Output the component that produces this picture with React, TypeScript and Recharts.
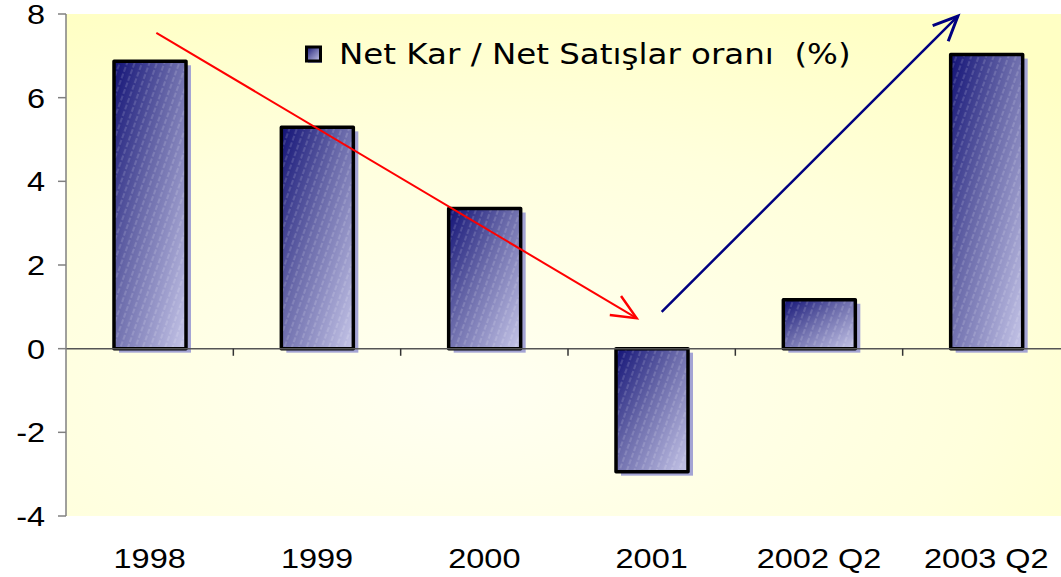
import React from "react";
import { BarChart, Bar, XAxis, YAxis, CartesianGrid, ReferenceLine } from "recharts";

const categories = ["1998", "1999", "2000", "2001", "2002 Q2", "2003 Q2"];
const ratios = [6.87, 5.29, 3.35, -2.94, 1.17, 7.03];
const yTicks = [-4, -2, 0, 2, 4, 6, 8];
const boundaries = [0.5, 1.5, 2.5, 3.5, 4.5];
const redArrow = [{ x: 0.04, y: 7.55 }, { x: 2.91, y: 0.73 }];
const blueArrow = [{ x: 3.06, y: 0.88 }, { x: 4.83, y: 7.95 }];
const legendLabel = "Net Kar / Net Satışlar oranı  (%)";

const data = categories.map((name, i) => ({ name, value: ratios[i], idx: i }));

const STRETCH = 1.16;

const BarShape = (p: any) => {
  const { x, y, width, height } = p;
  const top = Math.min(y, y + height);
  const h = Math.abs(height);
  return (
    <g>
      <rect x={x + 5} y={top + 4} width={width} height={h} fill="#a4a4d4" />
      <rect x={x} y={top} width={width} height={h} fill="url(#barGrad)" />
      <rect x={x} y={top} width={width} height={h} fill="url(#stripes)" />
      <rect x={x} y={top} width={width} height={h} fill="none" stroke="#000" strokeWidth={3.5} strokeLinejoin="round" />
    </g>
  );
};

const Arrow = (p: any) => {
  const { x1, y1, x2, y2, stroke, strokeWidth } = p;
  const ang = Math.atan2(y2 - y1, x2 - x1);
  const len = 27;
  const spread = 0.42;
  const a1x = x2 - len * Math.cos(ang - spread);
  const a1y = y2 - len * Math.sin(ang - spread);
  const a2x = x2 - len * Math.cos(ang + spread);
  const a2y = y2 - len * Math.sin(ang + spread);
  return (
    <g>
      <line x1={x1} y1={y1} x2={x2} y2={y2} stroke={stroke} strokeWidth={strokeWidth} />
      <polyline
        points={`${a1x},${a1y} ${x2},${y2} ${a2x},${a2y}`}
        fill="none"
        stroke={stroke}
        strokeWidth={strokeWidth + 0.5}
        strokeLinejoin="miter"
      />
    </g>
  );
};

const YTick = ({ x, y, payload }: any) => (
  <g transform={`translate(${x},${y})`}>
    <text transform={`scale(${STRETCH},1)`} textAnchor="end" dy="0.36em" fontSize={28} fontFamily="Liberation Sans, Arial" fill="#000">
      {payload.value}
    </text>
  </g>
);

const XTick = ({ x, y, payload }: any) => (
  <g transform={`translate(${x},${y})`}>
    <text transform={`scale(${STRETCH},1)`} textAnchor="middle" dy="0.71em" fontSize={28} fontFamily="Liberation Sans, Arial" fill="#000">
      {payload.value}
    </text>
  </g>
);

export default function App() {
  return (
    <div style={{ position: "absolute", left: 0, top: 0, width: 1061, height: 577, overflow: "hidden", background: "#fff" }}>
      <BarChart width={1070} height={577} data={data} margin={{ top: 14, right: 0, bottom: 0, left: 0 }} barSize={72}>
        <defs>
          <radialGradient id="bgGrad" cx="0.4" cy="0.75" r="0.85">
            <stop offset="0" stopColor="#fffff2" />
            <stop offset="0.6" stopColor="#ffffdc" />
            <stop offset="1" stopColor="#ffffc4" />
          </radialGradient>
          <linearGradient id="barGrad" x1="0" y1="0" x2="1" y2="1">
            <stop offset="0" stopColor="#121276" />
            <stop offset="0.45" stopColor="#6a6aaa" />
            <stop offset="1" stopColor="#c6c6e8" />
          </linearGradient>
          <pattern id="stripes" patternUnits="userSpaceOnUse" width="7" height="7" patternTransform="rotate(20)">
            <line x1="1" y1="0" x2="1" y2="7" stroke="#ffffff" strokeOpacity={0.28} strokeWidth={1} strokeDasharray="4 2" />
          </pattern>
        </defs>
        <CartesianGrid horizontal={false} vertical={false} fill="url(#bgGrad)" />
        <XAxis
          dataKey="name"
          axisLine={false}
          tickLine={false}
          tickSize={6}
          tickMargin={26}
          height={61}
          interval={0}
          tick={<XTick />}
        />
        <XAxis xAxisId="num" type="number" dataKey="idx" domain={[-0.5, 5.5]} hide />
        <YAxis
          domain={[-4, 8]}
          ticks={yTicks}
          width={66}
          tickSize={8}
          tickMargin={13}
          axisLine={{ stroke: "#808080", strokeWidth: 1.5 }}
          tickLine={{ stroke: "#808080", strokeWidth: 1.5 }}
          tick={<YTick />}
          interval={0}
        />
        <Bar dataKey="value" shape={<BarShape />} isAnimationActive={false} />
        <ReferenceLine y={0} stroke="#555" strokeWidth={1.5} />
        {boundaries.map((b) => (
          <ReferenceLine
            key={b}
            xAxisId="num"
            segment={[{ x: b, y: 0 }, { x: b, y: -0.17 }]}
            stroke="#333"
            strokeWidth={1.5}
          />
        ))}
        <ReferenceLine xAxisId="num" segment={redArrow} stroke="#ff0000" strokeWidth={2} shape={Arrow} />
        <ReferenceLine xAxisId="num" segment={blueArrow} stroke="#000080" strokeWidth={2.5} shape={Arrow} />
      </BarChart>
      <div style={{ position: "absolute", left: 305, top: 38, display: "flex", alignItems: "center" }}>
        <svg width={20} height={20} style={{ marginRight: 14 }}>
          <rect x={3} y={4} width={14} height={14} fill="#a4a4d4" />
          <rect x={1.5} y={2} width={14} height={14} fill="url(#barGrad)" stroke="#000" strokeWidth={3} />
        </svg>
        <span
          style={{
            fontFamily: "DejaVu Sans, Verdana, sans-serif",
            fontSize: 28,
            whiteSpace: "pre",
            transform: `scaleX(${STRETCH})`,
            transformOrigin: "left center",
            color: "#000",
            lineHeight: "34px",
          }}
        >
          {legendLabel}
        </span>
      </div>
    </div>
  );
}
